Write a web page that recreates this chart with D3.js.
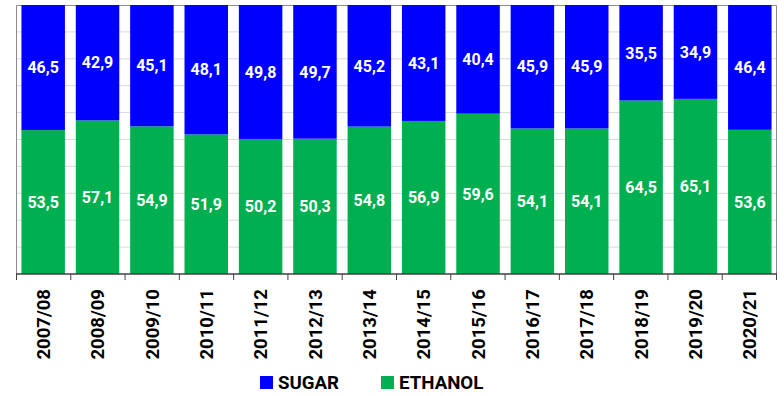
<!DOCTYPE html>
<html>
<head>
<meta charset="utf-8">
<script src="https://cdn.jsdelivr.net/npm/d3@7"></script>
<style>
  html, body { margin: 0; padding: 0; background: #fff; }
  svg { display: block; font-family: Roboto, "Open Sans", sans-serif; }
</style>
</head>
<body>
<svg id="chart" width="784" height="396"></svg>
<script>
// Harvest seasons and share of cane going to each product (%)
const seasons = ["2007/08","2008/09","2009/10","2010/11","2011/12","2012/13","2013/14",
                 "2014/15","2015/16","2016/17","2017/18","2018/19","2019/20","2020/21"];
const ethanol = [53.5, 57.1, 54.9, 51.9, 50.2, 50.3, 54.8, 56.9, 59.6, 54.1, 54.1, 64.5, 65.1, 53.6];
const sugar   = [46.5, 42.9, 45.1, 48.1, 49.8, 49.7, 45.2, 43.1, 40.4, 45.9, 45.9, 35.5, 34.9, 46.4];
const seriesNames = ["SUGAR", "ETHANOL"];
const colors = { SUGAR: "#0000ff", ETHANOL: "#00b050" };

const svg = d3.select("#chart");
const m = { left: 16, right: 7, top: 5, bottom: 122 };
const W = 784, H = 396;
const x0 = m.left, x1 = W - m.right, y0 = H - m.bottom, y1 = m.top;

const x = d3.scaleBand().domain(seasons).range([x0, x1]).paddingInner(0.2).paddingOuter(0.1);
const y = d3.scaleLinear().domain([0, 100]).range([y0, y1]);

// horizontal gridlines
svg.append("g")
  .selectAll("line")
  .data(d3.range(10, 100, 10))
  .join("line")
  .attr("x1", x0).attr("x2", x1)
  .attr("y1", d => y(d)).attr("y2", d => y(d))
  .attr("stroke", "#d9d9d9").attr("stroke-width", 1);

// frame
svg.append("path")
  .attr("d", `M${x0+0.5},${y0} V${y1+0.5} H${x1-0.5} V${y0}`)
  .attr("fill", "none").attr("stroke", "#8c8c8c").attr("stroke-width", 1);

const rows = seasons.map((s, i) => ({ season: s, ETHANOL: ethanol[i], SUGAR: sugar[i] }));
const stack = d3.stack().keys(["ETHANOL", "SUGAR"])(rows);

const layers = svg.append("g").selectAll("g")
  .data(stack).join("g")
  .attr("fill", d => colors[d.key]);

layers.selectAll("rect")
  .data(d => d)
  .join("rect")
  .attr("x", d => x(d.data.season))
  .attr("width", x.bandwidth())
  .attr("y", d => y(d[1]))
  .attr("height", d => y(d[0]) - y(d[1]));

// value labels
layers.selectAll("text")
  .data(d => d.map(v => ({ v, key: d.key })))
  .join("text")
  .attr("x", d => x(d.v.data.season) + x.bandwidth() / 2)
  .attr("y", d => (y(d.v[0]) + y(d.v[1])) / 2)
  .attr("dy", "0.36em")
  .attr("text-anchor", "middle")
  .attr("fill", "#fff")
  .attr("font-size", 16)
  .attr("font-weight", "bold")
  .text(d => d3.format(".1f")(d.v.data[d.key]).replace(".", ","));

// x axis
const xAxis = svg.append("g")
  .attr("transform", `translate(0,${y0})`);
xAxis.append("line")
  .attr("x1", x0).attr("x2", x1)
  .attr("stroke", "#404040").attr("stroke-width", 1.5);
xAxis.selectAll("line.tick")
  .data(d3.range(seasons.length + 1))
  .join("line")
  .attr("class", "tick")
  .attr("x1", i => x0 + 0.5 + i * (x1 - x0 - 1) / seasons.length)
  .attr("x2", i => x0 + 0.5 + i * (x1 - x0 - 1) / seasons.length)
  .attr("y1", 0).attr("y2", 6)
  .attr("stroke", "#404040").attr("stroke-width", 1);

xAxis.selectAll("text")
  .data(seasons)
  .join("text")
  .attr("transform", d => `translate(${x(d) + x.bandwidth() / 2},15) rotate(-90)`)
  .attr("text-anchor", "end")
  .attr("dy", "0.36em")
  .attr("font-size", 18.5)
  .attr("font-weight", "bold")
  .attr("fill", "#000")
  .text(d => d);

// legend
const legend = svg.append("g").attr("transform", "translate(260,376)");
const items = [{ name: "SUGAR", dx: 0 }, { name: "ETHANOL", dx: 121 }];
const li = legend.selectAll("g").data(items).join("g")
  .attr("transform", d => `translate(${d.dx},0)`);
li.append("rect").attr("width", 13).attr("height", 13).attr("fill", d => colors[d.name]);
li.append("text")
  .attr("x", 18).attr("y", 13)
  .attr("font-size", 18.7).attr("font-weight", "bold").attr("fill", "#000")
  .text(d => d.name);
</script>
</body>
</html>
